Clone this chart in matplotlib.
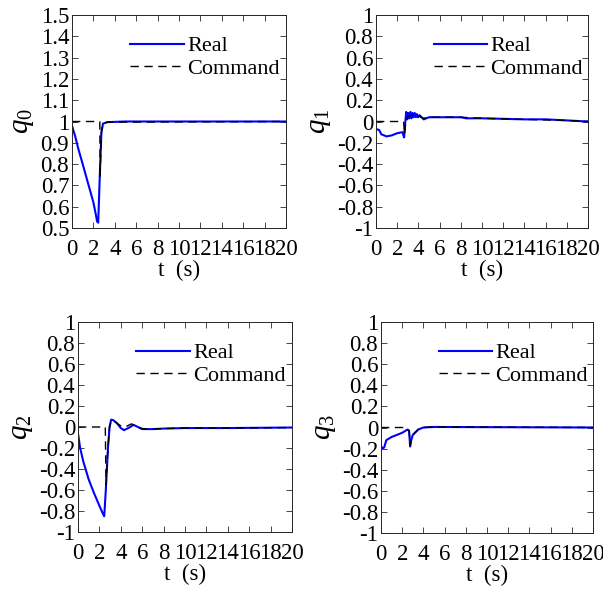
import matplotlib
matplotlib.use("Agg")
import numpy as np
import matplotlib.pyplot as plt
from matplotlib.ticker import FormatStrFormatter

plt.rcParams['font.family'] = ['Liberation Serif', 'DejaVu Serif']
plt.rcParams['mathtext.fontset'] = 'custom'
plt.rcParams['mathtext.rm'] = 'Liberation Serif'
plt.rcParams['mathtext.it'] = 'Liberation Serif:italic'
plt.rcParams['axes.unicode_minus'] = False

# q0
t0_real = [0, 0.3, 0.6, 1.0, 1.5, 2.0, 2.2, 2.35, 2.45, 2.6, 2.75, 2.9, 3.3, 5, 20]
q0_real = [0.98, 0.93, 0.87, 0.80, 0.71, 0.62, 0.57, 0.53, 0.525, 0.75, 0.95, 0.99, 0.997, 1.0, 1.0]
t0_cmd = [0, 2.6, 2.63, 2.75, 2.9, 3.3, 20]
q0_cmd = [1, 1, 0.74, 0.95, 0.99, 0.997, 1.0]

# q1
t1_real = [0, 0.3, 0.5, 1.0, 1.5, 2.0, 2.5, 2.65, 2.75, 2.85, 2.95, 3.05, 3.15, 3.25, 3.35, 3.45, 3.55,
           3.65, 3.75, 3.85, 3.95, 4.1, 4.3, 4.5, 5.0, 6, 8, 8.5, 9, 10, 12, 14, 16, 18, 20]
q1_real = [-0.07, -0.08, -0.12, -0.14, -0.13, -0.11, -0.10, -0.15, -0.02, 0.09, 0.02, 0.08, 0.03, 0.09,
           0.03, 0.08, 0.04, 0.08, 0.04, 0.07, 0.04, 0.06, 0.04, 0.02, 0.04, 0.04, 0.04, 0.03, 0.03,
           0.03, 0.025, 0.02, 0.02, 0.01, 0.0]
t1_cmd = [0, 2.6, 2.7, 2.8, 3.0, 3.5, 4.0, 4.5, 5.0, 6, 8, 10, 14, 18, 20]
q1_cmd = [0, 0, -0.12, -0.02, 0.05, 0.06, 0.05, 0.03, 0.04, 0.04, 0.04, 0.03, 0.02, 0.01, 0.0]

# q2
t2_real = [0, 0.2, 0.5, 1.0, 1.5, 2.0, 2.3, 2.45, 2.6, 2.8, 2.95, 3.1, 3.3, 3.6, 4.0, 4.3, 4.7,
           5.2, 5.6, 6, 7, 8, 10, 14, 20]
q2_real = [-0.06, -0.2, -0.33, -0.5, -0.63, -0.75, -0.82, -0.85, -0.6, -0.2, 0.0, 0.07, 0.065,
           0.04, -0.01, -0.03, -0.01, 0.02, 0.0, -0.02, -0.02, -0.015, -0.01, -0.01, -0.005]
t2_cmd = [0, 2.55, 2.62, 2.8, 2.95, 3.1, 3.3, 3.6, 4.0, 4.4, 5.0, 5.6, 6, 7, 8, 10, 14, 20]
q2_cmd = [0, 0, -0.55, -0.2, 0.0, 0.06, 0.06, 0.04, 0.01, 0.0, 0.03, 0.0, -0.015, -0.02,
          -0.015, -0.01, -0.01, -0.005]

# q3
t3_real = [0, 0.1, 0.3, 0.5, 1.0, 1.5, 2.0, 2.5, 2.65, 2.75, 2.85, 3.0, 3.5, 4.0, 5.0, 20]
q3_real = [-0.17, -0.20, -0.19, -0.12, -0.09, -0.07, -0.05, -0.02, -0.03, -0.18, -0.12,
           -0.07, -0.02, 0.0, 0.005, 0.0]
t3_cmd = [0, 2.4, 2.5, 2.65, 2.75, 2.85, 3.0, 3.5, 4.0, 5.0, 20]
q3_cmd = [0, 0, -0.02, -0.03, -0.17, -0.12, -0.07, -0.02, 0.0, 0.005, 0.0]

panels = [
    (t0_real, q0_real, t0_cmd, q0_cmd, '$q_0$', (0.5, 1.5), 0.1),
    (t1_real, q1_real, t1_cmd, q1_cmd, '$q_1$', (-1, 1), 0.2),
    (t2_real, q2_real, t2_cmd, q2_cmd, '$q_2$', (-1, 1), 0.2),
    (t3_real, q3_real, t3_cmd, q3_cmd, '$q_3$', (-1, 1), 0.2),
]

# axes boxes in pixels: left, top, right, bottom
boxes = [(72, 15, 286, 228), (376, 15, 588, 228), (78, 322, 292, 532), (381, 322, 593, 533)]
W, H = 603, 591

fig = plt.figure(figsize=(W / 100, H / 100), dpi=100)
for (tr, qr, tc, qc, lab, ylim, step), (l, t, r, b) in zip(panels, boxes):
    ax = fig.add_axes([l / W, 1 - b / H, (r - l) / W, (b - t) / H])
    ax.plot(tr, qr, color='#0000ff', lw=1.5, label='Real')
    ax.plot(tc, qc, color='black', lw=1.0, ls=(0, (6, 4)), label='Command')
    ax.set_xlim(0, 20)
    ax.set_ylim(*ylim)
    ax.set_xticks(np.arange(0, 21, 2))
    ax.set_yticks(np.round(np.arange(ylim[0], ylim[1] + step / 2, step), 2) + 0.0)
    ax.xaxis.set_major_formatter(FormatStrFormatter('%g'))
    ax.yaxis.set_major_formatter(FormatStrFormatter('%g'))
    ax.tick_params(direction='in', top=True, right=True, labelsize=16.5, length=4,
                   width=0.6, color='#262626')
    ax.tick_params(axis='x', pad=8)
    ax.tick_params(axis='y', pad=2)
    for s in ax.spines.values():
        s.set_linewidth(0.7)
        s.set_color('#262626')
    ax.set_xlabel('t  (s)', fontsize=16.5, labelpad=0)
    ax.set_ylabel(lab, fontsize=21, labelpad=3)
    ax.legend(loc='upper left', bbox_to_anchor=(0.2, 0.975), frameon=False, fontsize=16,
              handlelength=2.4, handletextpad=0.15, labelspacing=0.1, borderpad=0.2)

fig.savefig('out.png', dpi=100)
